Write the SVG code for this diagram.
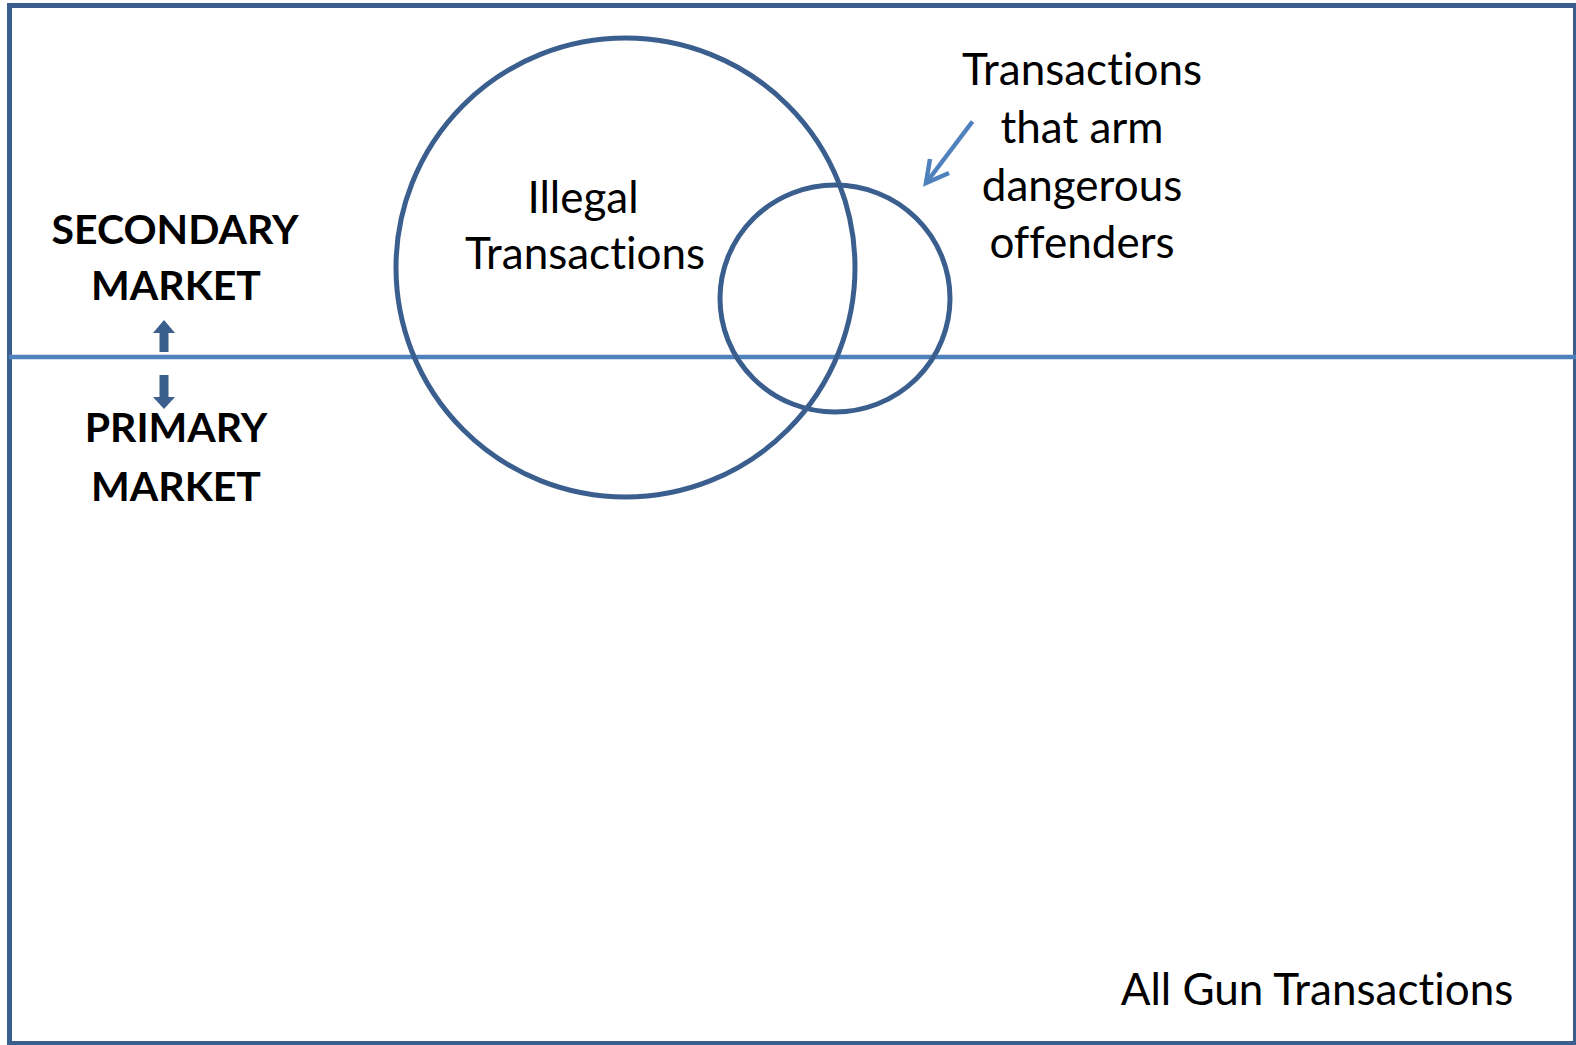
<svg xmlns="http://www.w3.org/2000/svg" width="1576" height="1045" viewBox="0 0 1576 1045">
<defs>
<style>
.frame{fill:none;stroke:#3A5F8E;stroke-width:5}
.set{fill:none;stroke:#3A5F8E;stroke-width:5}
.divider{stroke:#4F81BD;stroke-width:4.5}
.t{font-family:Lato,"Open Sans","Liberation Sans",sans-serif;font-size:44px;fill:#000;text-anchor:middle;font-variant-ligatures:none;font-feature-settings:"liga" 0}
.b{font-weight:bold;font-size:41px}
.blk{fill:#3A5F8E}
.callout{fill:none;stroke:#4F81BD;stroke-width:4.5;stroke-linecap:butt}
</style>
</defs>
<rect width="1576" height="1045" fill="#fff"/>
<g id="all-transactions">
<rect class="frame" x="9.5" y="5.5" width="1566" height="1038"/>
<text class="t" x="1317" y="1005">All Gun Transactions</text>
</g>
<g id="market-divider">
<line class="divider" x1="9" y1="357" x2="1576" y2="357"/>
</g>
<g id="secondary-market">
<text class="t b" x="175" y="244">SECONDARY</text>
<text class="t b" x="176" y="300">MARKET</text>
<path class="blk" d="M164,320 L175,333 L168.5,333 L168.5,352 L159.5,352 L159.5,333 L153,333 Z"/>
</g>
<g id="primary-market">
<path class="blk" d="M164,409 L175,397 L168.5,397 L168.5,375 L159.5,375 L159.5,397 L153,397 Z"/>
<text class="t b" x="176" y="442">PRIMARY</text>
<text class="t b" x="176" y="501">MARKET</text>
</g>
<g id="illegal-transactions">
<circle class="set" cx="625.5" cy="267.5" r="229.5"/>
<text class="t" x="583" y="213">Illegal</text>
<text class="t" x="585" y="269">Transactions</text>
</g>
<g id="dangerous-offenders">
<ellipse class="set" cx="835" cy="298.5" rx="115" ry="113.5"/>
<text class="t" x="1082" y="85">Transactions</text>
<text class="t" x="1082" y="143">that arm</text>
<text class="t" x="1082" y="201">dangerous</text>
<text class="t" x="1082" y="258">offenders</text>
</g>
<g id="connectors">
<line class="callout" x1="972.5" y1="121.5" x2="926" y2="183"/>
<polyline class="callout" points="930,159 926,183 949,173"/>
</g>
</svg>
